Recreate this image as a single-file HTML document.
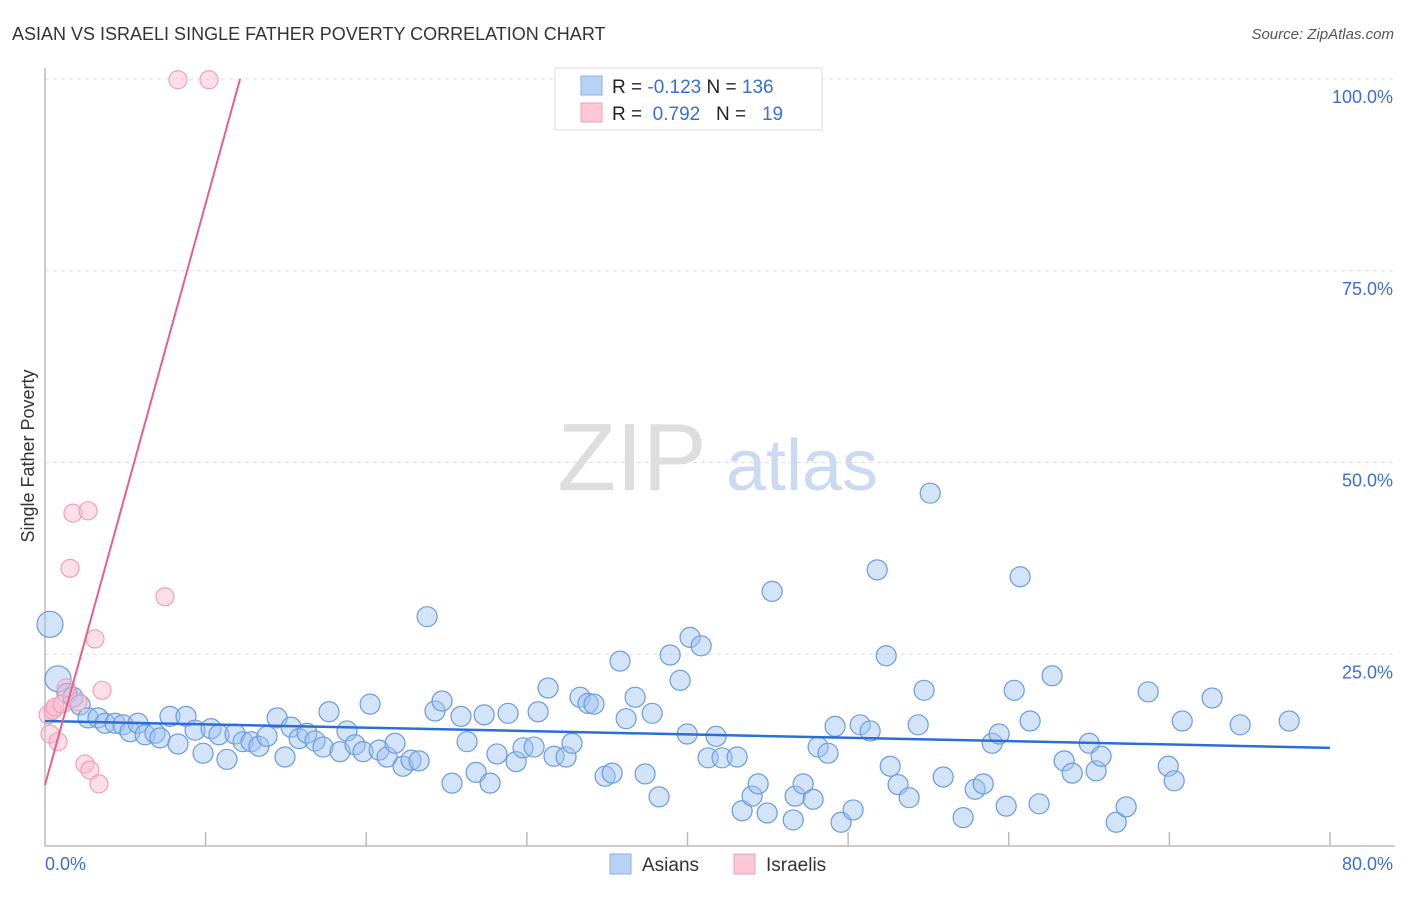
<!DOCTYPE html>
<html><head><meta charset="utf-8"><style>
body{margin:0;background:#fff;font-family:"Liberation Sans",sans-serif;}
svg text{font-family:"Liberation Sans",sans-serif;}
</style></head><body>
<svg id="c" width="1406" height="892">
<text x="12" y="40" font-size="18" fill="#333">ASIAN VS ISRAELI SINGLE FATHER POVERTY CORRELATION CHART</text>
<text x="1394" y="39" font-size="15" fill="#555" font-style="italic" text-anchor="end">Source: ZipAtlas.com</text>
<text transform="translate(34,456) rotate(-90)" font-size="18" fill="#333" text-anchor="middle">Single Father Poverty</text>
<g>
<text x="632" y="490" font-size="96" fill="#ddd" font-family="Liberation Serif" text-anchor="middle">ZIP</text>
<text x="802" y="490" font-size="72" fill="#c9daf2" text-anchor="middle">atlas</text>
</g>
<g id="grid"></g><g id="axes"></g><g id="pts"></g><g id="lines"></g>
<g>
<rect x="555" y="68" width="267" height="62" fill="#fff" stroke="#ddd"/>
<rect x="581" y="76" width="21" height="19" fill="#b8d2f5" stroke="#8ab0e8"/>
<rect x="581" y="103" width="21" height="19" fill="#fcc8d6" stroke="#f0a0b8"/>
<text x="612" y="93" font-size="19" fill="#222">R = <tspan fill="#3a6fd0">-0.123</tspan>   N = <tspan fill="#3a6fd0">136</tspan></text>
<text x="612" y="120" font-size="19" fill="#222" xml:space="preserve">R =  <tspan fill="#3a6fd0">0.792</tspan>   N =   <tspan fill="#3a6fd0">19</tspan></text>
</g>
<g>
<rect x="610" y="854" width="21" height="20" fill="#b8d2f5" stroke="#8ab0e8"/>
<text x="642" y="871" font-size="19" fill="#333">Asians</text>
<rect x="734" y="854" width="21" height="20" fill="#fcc8d6" stroke="#f0a0b8"/>
<text x="766" y="871" font-size="19" fill="#333">Israelis</text>
</g>
</svg>
<script>
const asianX=[0.31,0.81,1.37,1.74,2.18,2.68,3.30,3.74,4.36,4.86,5.29,5.79,6.23,6.85,7.16,7.78,8.28,8.78,9.34,9.84,10.34,10.83,11.33,11.83,12.33,12.83,13.32,13.82,14.45,14.94,15.32,15.82,16.31,16.81,17.31,17.68,18.37,18.80,19.30,19.80,20.24,20.80,21.30,21.79,22.29,22.79,23.29,23.79,24.28,24.72,25.34,25.90,26.28,26.84,27.34,27.71,28.14,28.83,29.33,29.76,30.45,30.70,31.32,31.69,32.44,32.81,33.31,33.81,34.18,34.87,35.31,35.80,36.18,36.74,37.36,37.80,38.23,38.92,39.54,39.98,40.16,40.85,41.28,41.78,42.15,43.09,43.40,44.02,44.40,44.96,45.27,46.58,46.70,47.20,47.82,48.13,48.75,49.19,49.56,50.31,50.75,51.37,51.81,52.37,52.62,53.11,53.80,54.36,54.73,55.11,55.92,57.16,57.91,58.41,58.97,59.40,59.84,60.34,60.71,61.33,61.89,62.70,63.45,63.95,65.01,65.44,65.75,66.69,67.31,68.68,69.93,70.30,70.80,72.66,74.41,77.46];
const asianY=[28.9,21.8,19.9,19.4,18.4,16.7,16.7,16.0,16.0,15.8,14.9,16.0,14.5,14.7,14.1,16.9,13.3,16.9,15.1,12.1,15.3,14.5,11.3,14.6,13.6,13.6,13.0,14.3,16.7,11.6,15.5,14.0,14.7,13.7,12.9,17.5,12.3,15.0,13.2,12.3,18.5,12.5,11.6,13.4,10.4,11.2,11.1,29.9,17.6,18.9,8.2,16.9,13.6,9.6,17.1,8.2,12.0,17.3,11.0,12.8,12.9,17.5,20.6,11.7,11.6,13.4,19.4,18.6,18.5,9.1,9.5,24.1,16.6,19.4,9.4,17.3,6.4,24.9,21.6,14.6,27.2,26.1,11.5,14.3,11.5,11.6,4.6,6.5,8.1,4.3,33.2,3.4,6.5,8.1,6.1,12.9,12.1,15.6,3.1,4.7,15.8,15.0,36.0,24.8,10.4,8.0,6.3,15.8,20.3,46.0,9.0,3.7,7.4,8.1,13.4,14.6,5.2,20.3,35.1,16.3,5.5,22.2,11.1,9.5,13.4,9.8,11.7,3.1,5.1,20.1,10.4,8.5,16.3,19.3,15.8,16.3];
const israelX=[0.19,0.31,0.5,0.62,0.81,1.06,1.31,1.56,1.74,2.05,2.49,2.68,2.8,3.11,3.36,3.55,7.47,8.28,10.21];
const israelY=[17.1,14.6,17.7,18.1,13.6,18.5,20.6,36.2,43.4,18.8,10.7,43.7,9.9,27.0,8.1,20.3,32.5,99.9,99.9];
const asianTrend=[16.3,12.8];
const israelTrend=[7.95,7.58];
const yTicks=[25,50,75,100];
const yTickLabels=["25.0%","50.0%","75.0%","100.0%"];
const xTicks=[10,20,30,40,50,60,70,80];

const NS="http://www.w3.org/2000/svg";
const X0=45,X1=1330,Y0=846,Y100=79;
const sx=v=>X0+(X1-X0)*v/80;
const sy=v=>Y0-(Y0-Y100)*v/100;
function mk(t,a,p){const e=document.createElementNS(NS,t);for(const k in a)e.setAttribute(k,a[k]);p.appendChild(e);return e;}
const grid=document.getElementById('grid'),axes=document.getElementById('axes'),pts=document.getElementById('pts'),lines=document.getElementById('lines');
yTicks.forEach((v,i)=>{
  const l=mk('line',{x1:X0,x2:1395,y1:sy(v),y2:sy(v),stroke:'#ddd','stroke-dasharray':'4,4'},grid);
  
  
  const t=mk('text',{x:1393,y:sy(v)+24,'font-size':18,fill:'#3a6fd0','text-anchor':'end'},axes);
  t.textContent=yTickLabels[i];
  
  
});
mk('line',{x1:X0,x2:X0,y1:68,y2:Y0,stroke:'#bbb','stroke-width':1.5},axes);
mk('line',{x1:X0,x2:1395,y1:Y0,y2:Y0,stroke:'#bbb','stroke-width':1.5},axes);
xTicks.forEach(v=>{
  const l=mk('line',{x1:sx(v),x2:sx(v),y1:Y0-14,y2:Y0,stroke:'#bbb','stroke-width':1.5},axes);
  
  
});
const xl0=mk('text',{x:45,y:870,'font-size':18,fill:'#3a6fd0'},axes);xl0.textContent='0.0%';


const xl1=mk('text',{x:1393,y:870,'font-size':18,fill:'#3a6fd0','text-anchor':'end'},axes);xl1.textContent='80.0%';


asianX.forEach((x,i)=>{
  const c=mk('circle',{cx:sx(x),cy:sy(asianY[i]),r:i<2?13:10,fill:'rgba(160,195,240,0.45)',stroke:'#6a9ae0','stroke-width':1.2},pts);
  
  
});
israelX.forEach((x,i)=>{
  const c=mk('circle',{cx:sx(x),cy:sy(israelY[i]),r:9,fill:'rgba(250,185,205,0.45)',stroke:'#f0a0b8','stroke-width':1.2},pts);
  
  
});
const bl=mk('line',{x1:sx(0),y1:sy(asianTrend[0]),x2:sx(80),y2:sy(asianTrend[1]),stroke:'#2a6fd6','stroke-width':2.5},lines);


const xEnd=(100-israelTrend[0])/israelTrend[1];
const pl=mk('line',{x1:sx(0),y1:sy(israelTrend[0]),x2:sx(xEnd),y2:sy(100),stroke:'#e8608a','stroke-width':2},lines);


</script>
</body></html>
